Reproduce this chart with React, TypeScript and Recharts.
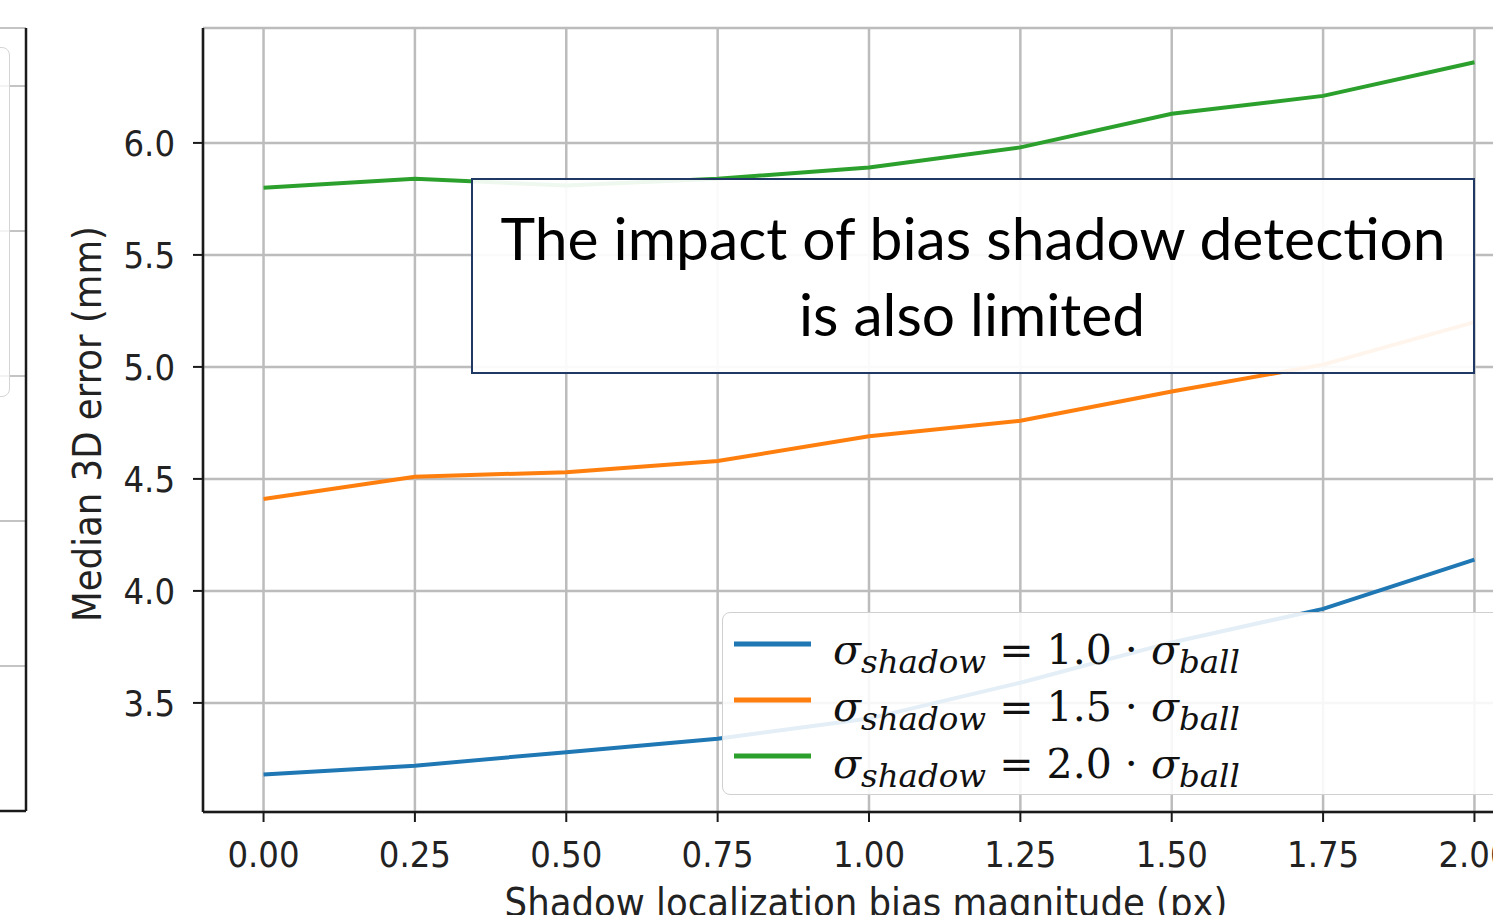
import { FC } from 'react';
import { CartesianGrid, Legend, Line, LineChart, ReferenceLine, XAxis, YAxis } from 'recharts';

// x positions (bias magnitude, px)
const xValues = [0, 0.25, 0.5, 0.75, 1.0, 1.25, 1.5, 1.75, 2.0];
// median 3D error (mm) per sigma ratio
const sigma10 = [3.18, 3.22, 3.28, 3.34, 3.43, 3.59, 3.77, 3.92, 4.14];
const sigma15 = [4.41, 4.51, 4.53, 4.58, 4.69, 4.76, 4.89, 5.01, 5.2];
const sigma20 = [5.8, 5.84, 5.81, 5.84, 5.89, 5.98, 6.13, 6.21, 6.36];

const xTicks = [0, 0.25, 0.5, 0.75, 1.0, 1.25, 1.5, 1.75, 2.0];
const yTicks = [3.5, 4.0, 4.5, 5.0, 5.5, 6.0];
const ratioLabels = ['1.0', '1.5', '2.0'];
const seriesColors = ['#1f77b4', '#ff7f0e', '#2ca02c'];
const seriesKeys = ['s10', 's15', 's20'];

// left neighbour panel (only its edge is visible)
const leftPanelTicks = [1, 2, 3, 4, 5];

const data = xValues.map((x, i) => ({
    x,
    s10: sigma10[i],
    s15: sigma15[i],
    s20: sigma20[i],
}));

const axisFont = "'DejaVu Sans Condensed', 'DejaVu Sans', sans-serif";
const tickStyle = { fontFamily: axisFont, fontSize: 36, fill: '#222' };
const frame = { stroke: '#1a1a1a', strokeWidth: 2.5 };

const YLabel = (props: any) => {
    const vb = props.viewBox || { x: 0, y: 28, width: 203, height: 784 };
    const cx = vb.x + 101;
    const cy = vb.y + vb.height / 2 + 4;
    return (
        <text x={cx} y={cy} transform={`rotate(-90, ${cx}, ${cy})`} textAnchor="middle"
            fontFamily={axisFont} fontSize={39.5} fill="#222">
            Median 3D error (mm)
        </text>
    );
};

const XLabel = (props: any) => {
    const vb = props.viewBox || { x: 203, y: 812, width: 1332, height: 103 };
    return (
        <text x={vb.x + vb.width / 2 - 3} y={916} textAnchor="middle"
            fontFamily={axisFont} fontSize={39.5} fill="#222">
            Shadow localization bias magnitude (px)
        </text>
    );
};

const renderLegend = () => (
    <div style={{
        width: 800, height: 183, boxSizing: 'border-box', border: '1.5px solid #d0d0d0',
        borderRadius: 8, background: 'rgba(255,255,255,0.88)',
    }}>
        <svg width={800} height={181}>
            {ratioLabels.map((r, i) => (
                <g key={r}>
                    <line x1={11} x2={88} y1={31 + i * 56} y2={31 + i * 56}
                        stroke={seriesColors[i]} strokeWidth={5} />
                    <text x={110} y={51 + i * 57} fontFamily="'DejaVu Serif', serif" fontSize={41} fill="#111">
                        <tspan fontStyle="italic">σ</tspan>
                        <tspan fontStyle="italic" fontSize={32.5} dy={9}>shadow</tspan>
                        <tspan dy={-9}>{` = ${r} · `}</tspan>
                        <tspan fontStyle="italic">σ</tspan>
                        <tspan fontStyle="italic" fontSize={32.5} dy={9}>ball</tspan>
                    </text>
                </g>
            ))}
        </svg>
    </div>
);

const App: FC = () => {
    return (
        <div style={{ position: 'absolute', left: 0, top: 0, width: 1493, height: 915, overflow: 'hidden', background: '#fff' }}>
            {/* edge of the neighbouring panel */}
            <div style={{ position: 'absolute', left: 0, top: 0 }}>
                <LineChart width={28} height={915} data={[{ x: 0 }, { x: 1 }]}
                    margin={{ top: 28, right: 0, bottom: 0, left: 0 }}>
                    <CartesianGrid vertical={false} stroke="#c4c4c4" strokeWidth={2} />
                    <XAxis dataKey="x" type="number" domain={[0, 1]} allowDataOverflow height={104}
                        tick={false} tickLine={false} axisLine={frame} />
                    <XAxis xAxisId="top" orientation="top" type="number" domain={[0, 1]} allowDataOverflow height={0}
                        tick={false} tickLine={false} axisLine={frame} />
                    <YAxis type="number" orientation="right" domain={[0, 5.4]} allowDataOverflow ticks={leftPanelTicks}
                        interval={0} width={2} tick={() => <g />} tickLine={false} axisLine={frame} />
                    {leftPanelTicks.map((t) => (
                        <ReferenceLine key={t} y={t} stroke="#c4c4c4" strokeWidth={2} ifOverflow="extendDomain" />
                    ))}
                </LineChart>
                <div style={{
                    position: 'absolute', left: -12, top: 47, width: 22, height: 350, boxSizing: 'border-box',
                    border: '1.5px solid #d4d4d4', borderRadius: 8, background: 'rgba(255,255,255,0.8)',
                }} />
            </div>

            <div style={{ position: 'absolute', left: 0, top: 0 }}>
                <LineChart width={1545} height={915} data={data}
                    margin={{ top: 28, right: 10, bottom: 0, left: 0 }}>
                    <CartesianGrid stroke="#bcbcbc" strokeWidth={2.5} />
                    <XAxis dataKey="x" type="number" domain={[-0.1, 2.1]} ticks={xTicks} interval={0}
                        allowDataOverflow tickFormatter={(v: number) => v.toFixed(2)}
                        height={103} tickSize={10} tickMargin={19} tick={tickStyle}
                        axisLine={frame} tickLine={{ stroke: '#1a1a1a', strokeWidth: 2 }}
                        label={XLabel} />
                    <XAxis xAxisId="top" orientation="top" type="number" domain={[-0.1, 2.1]}
                        height={0} tick={false} tickLine={false} axisLine={frame} />
                    <YAxis type="number" domain={[3.013, 6.513]} ticks={yTicks} interval={0}
                        allowDataOverflow tickFormatter={(v: number) => v.toFixed(1)}
                        width={203} tickSize={10} tickMargin={18} tick={tickStyle}
                        axisLine={frame} tickLine={{ stroke: '#1a1a1a', strokeWidth: 2 }}
                        label={YLabel} />
                    <Legend layout="horizontal" verticalAlign="middle" align="center"
                        wrapperStyle={{ left: 722, top: 612, width: 800, height: 183 }}
                        content={renderLegend} />
                    {seriesKeys.map((k, i) => (
                        <Line key={k} dataKey={k} type="linear" stroke={seriesColors[i]} strokeWidth={4}
                            dot={false} activeDot={false} isAnimationActive={false} />
                    ))}
                </LineChart>
            </div>

            {/* slide annotation */}
            <svg style={{ position: 'absolute', left: 0, top: 0 }} width={1493} height={915} pointerEvents="none">
                <rect x={472} y={179} width={1002} height={194} fill="#fff" fillOpacity={0.92}
                    stroke="#1f3864" strokeWidth={2} />
                <text x={973} y={260} textAnchor="middle" fontFamily="Lato, 'Open Sans', sans-serif"
                    fontSize={58} fill="#000" textLength={945} lengthAdjust="spacingAndGlyphs">
                    The impact of bias shadow detection
                </text>
                <text x={972} y={336} textAnchor="middle" fontFamily="Lato, 'Open Sans', sans-serif"
                    fontSize={58} fill="#000" textLength={346} lengthAdjust="spacingAndGlyphs">
                    is also limited
                </text>
            </svg>
        </div>
    );
};

export default App;
